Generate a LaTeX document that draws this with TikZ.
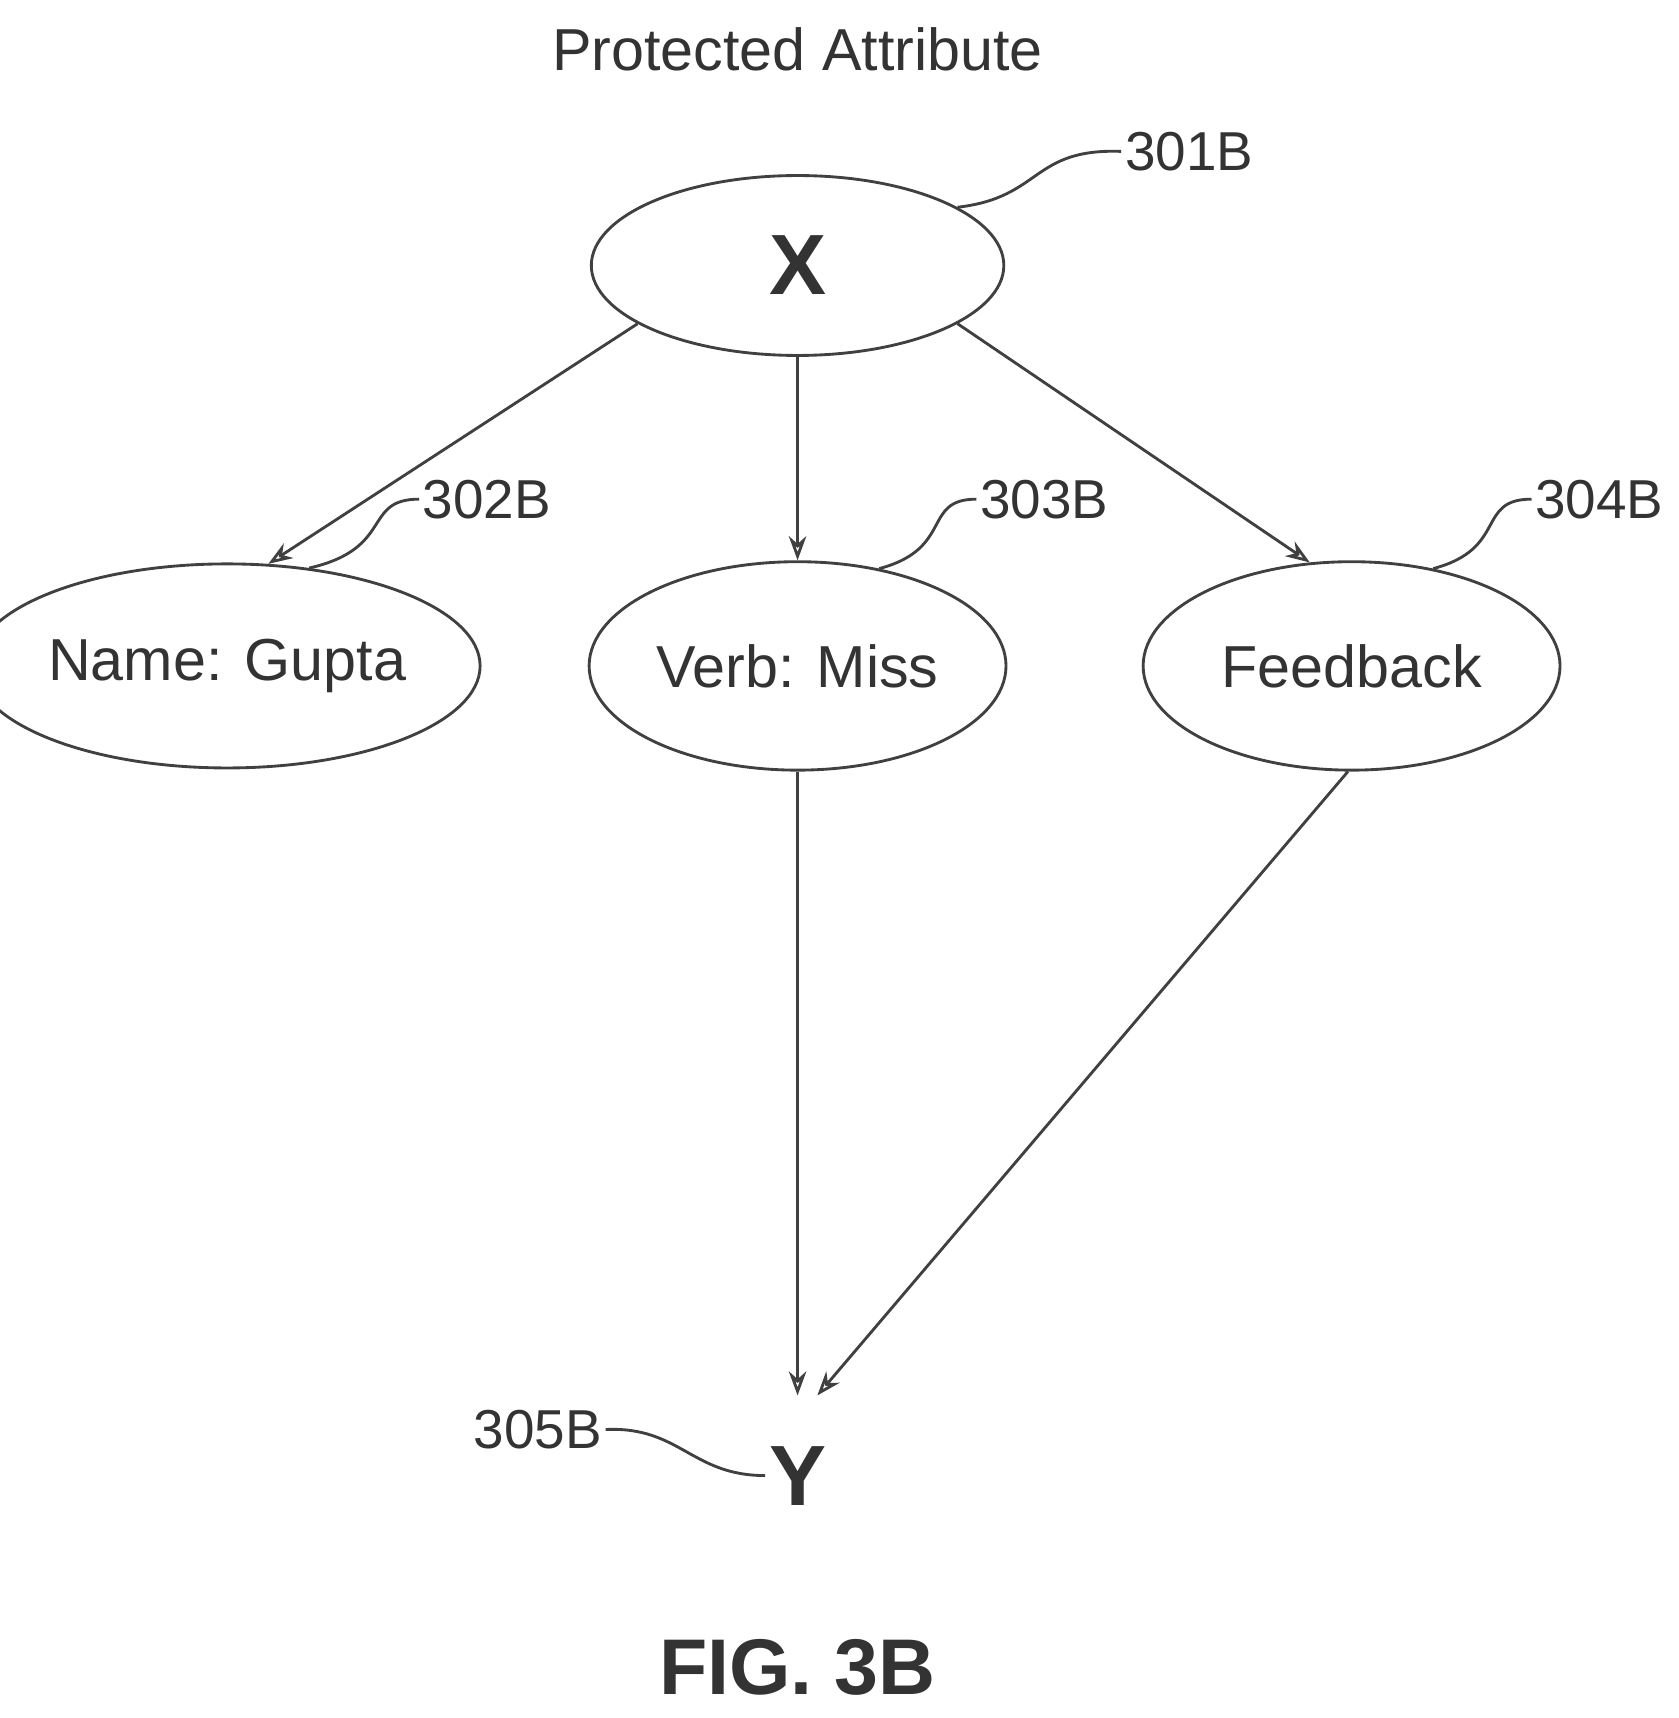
\documentclass[tikz,border=0pt]{standalone}
\usepackage{fontspec}
\setmainfont{Liberation Sans}
\usetikzlibrary{arrows.meta,shapes.geometric}
\begin{document}
\begin{tikzpicture}[x=1pt,y=-1pt,
  ln/.style={draw=black!75,line width=2.6pt},
  arr/.style={ln,-{Stealth[length=22pt,width=16pt,open]}},
  el/.style={ellipse,ln,inner sep=0pt},
  txt/.style={font=\fontsize{54}{60}\selectfont,text=black!80},
  ref/.style={font=\fontsize{50}{56}\selectfont,text=black!80}]
\useasboundingbox (0,0) rectangle (1530,1566);
\node[txt] (title) at (727,45) {Protected Attribute};
\node[el,minimum width=376pt,minimum height=164pt,font=\bfseries\fontsize{78}{80}\selectfont,text=black!80] (x) at (727,242) {X};
\node[el,minimum width=376pt,minimum height=186pt,txt] (n) at (207,607) {Name: Gupta};
\node[el,minimum width=380pt,minimum height=190pt,txt] (v) at (727,607) {Verb: Miss};
\node[el,minimum width=380pt,minimum height=190pt,txt] (f) at (1232,607) {Feedback};
\node[font=\bfseries\fontsize{78}{80}\selectfont,text=black!80] (y) at (727,1345) {Y};
\coordinate (yt) at (727,1272);
\coordinate (yr) at (745,1272);
\draw[arr] (x.200) -- (n.68);
\draw[arr] (x.south) -- (v.north);
\draw[arr] (x.-20) -- (f.112);
\draw[arr] (v.south) -- (yt);
\draw[arr] (f.-92) -- (yr);
\node[ref,anchor=west] (l1) at (1022,138) {301B};
\node[ref,anchor=west] (l2) at (382,455) {302B};
\node[ref,anchor=west] (l3) at (890,455) {303B};
\node[ref,anchor=west] (l4) at (1396,455) {304B};
\node[ref,anchor=east] (l5) at (552,1303) {305B};
\node[font=\bfseries\fontsize{72}{76}\selectfont,text=black!80] (fig) at (727,1520) {FIG. 3B};
\draw[ln] (x.20) .. controls (950,180) and (940,135) .. (l1.west);
\draw[ln] (n.50) .. controls (360,500) and (330,455) .. (l2.west);
\draw[ln] (v.50) .. controls (870,500) and (840,455) .. (l3.west);
\draw[ln] (f.50) .. controls (1375,500) and (1345,455) .. (l4.west);
\draw[ln] (l5.east) .. controls (620,1300) and (630,1345) .. (y.west);
\end{tikzpicture}
\end{document}
